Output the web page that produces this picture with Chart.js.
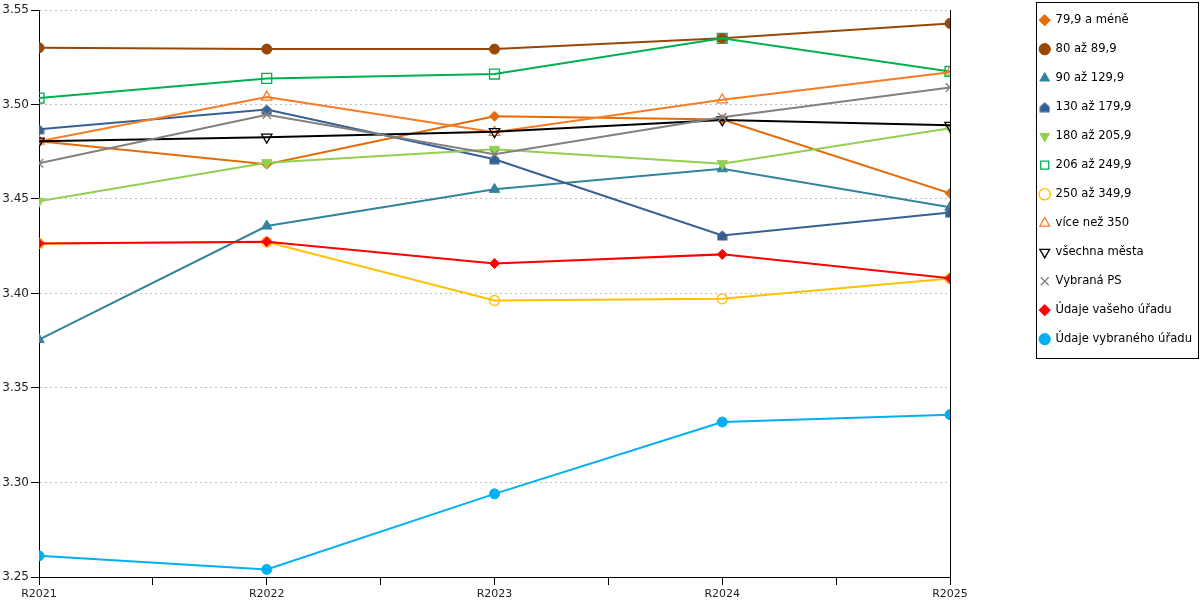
<!DOCTYPE html>
<html>
<head>
<meta charset="utf-8">
<script src="https://cdn.jsdelivr.net/npm/chart.js@4"></script>
<style>
  body { margin: 0; background: #fff; }
  #wrap { width: 1200px; height: 600px; }
</style>
</head>
<body>
<div id="wrap"><canvas id="chart" width="1200" height="600"></canvas></div>
<script>
const years = ["R2021", "R2022", "R2023", "R2024", "R2025"];
const yTicks = [3.25, 3.30, 3.35, 3.40, 3.45, 3.50, 3.55];

const names = [
  "79,9 a méně", "80 až 89,9", "90 až 129,9", "130 až 179,9",
  "180 až 205,9", "206 až 249,9", "250 až 349,9", "více než 350",
  "všechna města", "Vybraná PS", "Údaje vašeho úřadu", "Údaje vybraného úřadu"
];

const upTo79 = [3.4806, 3.4684, 3.4938, 3.4920, 3.4530];
const from80 = [3.5300, 3.5293, 3.5293, 3.5350, 3.5429];
const from90 = [3.3756, 3.4357, 3.4551, 3.4660, 3.4456];
const from130 = [3.4869, 3.4973, 3.4710, 3.4307, 3.4429];
const from180 = [3.4488, 3.4692, 3.4763, 3.4687, 3.4875];
const from206 = [3.5034, 3.5138, 3.5161, 3.5350, 3.5175];
const from250 = [3.4265, 3.4272, 3.3963, 3.3972, 3.4080];
const over350 = [3.4806, 3.5039, 3.4853, 3.5025, 3.5171];
const allCities = [3.4806, 3.4827, 3.4856, 3.4918, 3.4890];
const selectedPS = [3.4689, 3.4946, 3.4737, 3.4933, 3.5090];
const yourOffice = [3.4265, 3.4274, 3.4159, 3.4207, 3.4080];
const selectedOffice = [3.2612, 3.2540, 3.2940, 3.3320, 3.3359];

const seriesValues = [upTo79, from80, from90, from130, from180, from206,
  from250, over350, allCities, selectedPS, yourOffice, selectedOffice];

// small "house" marker (no pentagon in chart.js)
function houseMarker(color) {
  const c = document.createElement("canvas");
  c.width = 11; c.height = 11;
  const g = c.getContext("2d");
  g.fillStyle = color;
  g.beginPath();
  g.moveTo(5.5, 0.5);
  g.lineTo(10.5, 5);
  g.lineTo(10.5, 10.5);
  g.lineTo(0.5, 10.5);
  g.lineTo(0.5, 5);
  g.closePath();
  g.fill();
  return c;
}

// colour, point style, filled?, radius, rotation
const styles = [
  ["#E36C09", "rectRot", true, 5, 0],
  ["#984806", "circle", true, 5, 0],
  ["#31849B", "triangle", true, 6, 0],
  ["#376092", houseMarker("#376092"), true, 5, 0],
  ["#92D050", "triangle", true, 6, 180],
  ["#00B050", "rect", false, 7, 0],
  ["#FFC000", "circle", false, 5, 0],
  ["#F97B22", "triangle", false, 6, 0],
  ["#000000", "triangle", false, 6, 180],
  ["#808080", "crossRot", false, 6, 0],
  ["#FF0000", "rectRot", true, 5, 0],
  ["#00B0F0", "circle", true, 5, 0]
];

const datasets = seriesValues.map((vals, i) => {
  const [color, ps, filled, r, rot] = styles[i];
  return {
    label: names[i],
    data: vals.map((v, j) => ({ x: j, y: v })),
    borderColor: color,
    backgroundColor: color,
    borderWidth: 2,
    tension: 0,
    pointStyle: ps,
    pointRadius: r,
    pointHoverRadius: r,
    pointRotation: rot,
    pointBackgroundColor: filled ? color : "rgba(0,0,0,0)",
    pointBorderColor: color,
    pointBorderWidth: filled ? 1 : 1.3,
    order: seriesValues.length - i
  };
});

const LEG_FONT = 11.6;
const LEG_PAD = 17.4;
const PAD_RIGHT = -2;

const legendBox = {
  id: "legendBox",
  afterDraw(chart) {
    const lg = chart.legend;
    if (!lg) return;
    const ctx = chart.ctx;
    const left = lg.left + LEG_PAD - 4;
    const right = lg.right - 4;
    const top = lg.top + 5;
    const bottom = lg.top + LEG_PAD + LEG_FONT / 2 + (names.length - 1) * (LEG_FONT + LEG_PAD) + 19;
    ctx.save();
    ctx.strokeStyle = "#000";
    ctx.lineWidth = 1;
    ctx.strokeRect(Math.round(left) + 0.5, Math.round(top) + 0.5,
      Math.round(right - left), Math.round(bottom - top));
    ctx.restore();
  }
};

Chart.defaults.font.family = "'DejaVu Sans', Verdana, sans-serif";
Chart.defaults.color = "#222";

new Chart(document.getElementById("chart"), {
  type: "line",
  data: { datasets },
  plugins: [legendBox],
  options: {
    responsive: false,
    animation: false,
    devicePixelRatio: 1,
    layout: { padding: { top: -3, right: PAD_RIGHT, left: 0, bottom: 0 } },
    plugins: {
      tooltip: { enabled: false },
      legend: {
        position: "right",
        align: "start",
        labels: {
          usePointStyle: true,
          boxWidth: 10,
          boxHeight: 8,
          padding: LEG_PAD,
          color: "#000",
          font: { size: LEG_FONT },
          sort: (a, b) => a.datasetIndex - b.datasetIndex
        }
      }
    },
    scales: {
      x: {
        type: "linear",
        min: 0,
        max: years.length - 1,
        afterBuildTicks: (s) => {
          const t = [];
          for (let v = 0; v <= years.length - 1; v += 0.5) t.push({ value: v });
          s.ticks = t;
        },
        afterFit: (s) => { s.height = 23; },
        ticks: {
          autoSkip: false,
          maxRotation: 0,
          padding: 3,
          color: "#222",
          font: { size: 11 },
          callback: (v) => (Number.isInteger(v) ? years[v] : "")
        },
        grid: { drawOnChartArea: false, color: "#000", tickColor: "#000", tickLength: 8 },
        border: { color: "#000", width: 1 }
      },
      y: {
        min: yTicks[0],
        max: yTicks[yTicks.length - 1],
        afterBuildTicks: (s) => { s.ticks = yTicks.map((v) => ({ value: v })); },
        afterFit: (s) => { s.width = 39; s.paddingTop = 10; },
        ticks: {
          padding: 2,
          color: "#222",
          font: { size: 12 },
          callback: (v) => Number(v).toFixed(2)
        },
        grid: { color: "#bfbfbf", tickColor: "#000", tickLength: 8, lineWidth: 1 },
        border: { color: "#000", width: 1, dash: [2, 3] }
      },
      y2: {
        position: "right",
        min: 0,
        max: 1,
        afterFit: (s) => {
          const lg = s.chart.legend;
          s.width = lg ? Math.max(0, 1200 - PAD_RIGHT - lg.width - 950) : 84;
        },
        ticks: { display: false },
        grid: { display: false },
        border: { color: "#000", width: 1 }
      }
    }
  }
});
</script>
</body>
</html>
